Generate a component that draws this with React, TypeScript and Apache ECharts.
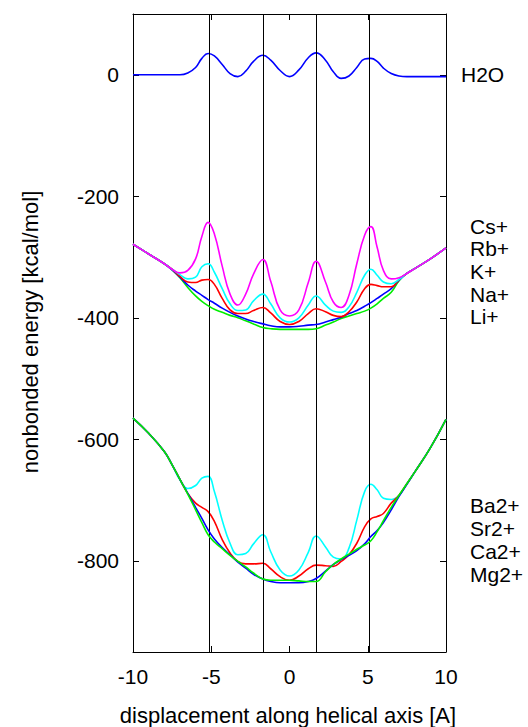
import React, { useEffect, useRef } from "react";
import * as echarts from "echarts";

// displacement grid (A)
const xs = [-10, -9, -8, -7.5, -7, -6.5, -6, -5.6, -5.2, -4.8, -4.3, -3.8, -3.3, -2.8, -2.3, -1.7, -1.2, -0.6, 0, 0.6, 1.2, 1.7, 2.3, 2.8, 3.3, 3.8, 4.3, 4.8, 5.2, 5.6, 6, 6.5, 7, 7.5, 8, 9, 10];

const h2o = [0, 0, 0, 0, 0, 3, 12, 27, 35, 31, 17, 2, -3, 6, 22, 32, 24, 7, -3, 8, 28, 36, 24, 5, -6, -2, 12, 26, 27, 22, 11, 2, -2, -3, -3, -3, -3];

const cs = [-279, -295, -311, -320, -326, -322, -303, -266, -243, -262, -315, -361, -379, -361, -328, -304, -340, -387, -397, -387, -342, -307, -341, -374, -383, -363, -311, -264, -250, -284, -322, -336, -334, -327, -319, -303, -285];
const rb = [-279, -295, -311, -320, -329, -336, -333, -316, -311, -325, -352, -377, -388, -387, -372, -361, -377, -400, -407, -400, -379, -364, -379, -389, -391, -382, -358, -330, -320, -330, -341, -344, -337, -327, -319, -303, -285];
const k = [-279, -295, -311, -320, -332, -341, -342, -338, -337, -345, -368, -387, -393, -393, -388, -383, -392, -406, -411, -406, -393, -385, -390, -396, -398, -390, -374, -352, -345, -347, -349, -349, -337, -327, -319, -303, -285];
const na = [-279, -295, -311, -321, -333, -346, -356, -363, -370, -376, -384, -391, -397, -402, -406, -410, -413, -415, -415, -414, -412, -411, -407, -403, -399, -393, -388, -381, -375, -368, -361, -352, -338, -327, -319, -303, -285];
const li = [-279, -295, -311, -321, -334, -350, -364, -373, -380, -386, -391, -396, -400, -405, -410, -416, -418, -419, -419, -419, -419, -418, -412, -407, -401, -397, -393, -389, -384, -377, -368, -358, -339, -327, -319, -303, -285];

const ba = [-565, -590, -620, -642, -667, -681, -676, -664, -661, -686, -733, -771, -790, -788, -772, -757, -785, -815, -825, -815, -786, -759, -777, -794, -797, -779, -733, -686, -674, -683, -697, -699, -692, -673, -654, -614, -567];
const sr = [-565, -590, -620, -642, -666, -689, -705, -712, -719, -735, -765, -787, -801, -805, -805, -804, -813, -826, -832, -825, -813, -807, -808, -809, -801, -790, -771, -744, -731, -727, -722, -705, -692, -673, -654, -614, -567];
const ca = [-565, -590, -620, -642, -666, -689, -712, -730, -749, -764, -778, -790, -802, -812, -822, -830, -834, -836, -836, -836, -834, -829, -817, -806, -798, -791, -783, -772, -760, -750, -737, -716, -694, -674, -654, -614, -567];
const mg = [-565, -590, -620, -642, -666, -690, -716, -737, -757, -769, -780, -791, -801, -810, -820, -830, -832, -832, -832, -833, -834, -834, -818, -806, -797, -789, -781, -774, -767, -752, -734, -712, -692, -673, -654, -614, -567];

const vlines = [-5.1, -1.7, 1.7, 5.1];
const yTicks = [-800, -600, -400, -200, 0];

const seriesNames = ["H2O", "Ba2+", "Sr2+", "Ca2+", "Mg2+", "Li+", "Na+", "K+", "Rb+", "Cs+"];
const seriesData = [h2o, ba, sr, ca, mg, li, na, k, rb, cs];
const seriesColors = ["#0000ff", "#00ffff", "#ff0000", "#0000ff", "#00ee00", "#00ee00", "#0000ff", "#ff0000", "#00ffff", "#ff00ff"];

const monoLabels = ["Cs+", "Rb+", "K+", "Na+", "Li+"];
const diLabels = ["Ba2+", "Sr2+", "Ca2+", "Mg2+"];

const FONT = '"Liberation Sans", Arial, sans-serif';
const FS = 21;
const TFS = 22;

export default function App() {
  const ref = useRef<HTMLDivElement>(null);
  useEffect(() => {
    if (!ref.current) return;
    const chart = echarts.init(ref.current, null, { renderer: "svg" });
    const series: any[] = seriesData.map((arr, i) => ({
      name: seriesNames[i],
      type: "line",
      xAxisIndex: 0,
      yAxisIndex: 0,
      data: xs.map((x, j) => [x, arr[j]]),
      showSymbol: false,
      smooth: 0.45,
      lineStyle: { color: seriesColors[i], width: 1.6 },
      itemStyle: { color: seriesColors[i] },
      z: 2 + i,
    }));
    series.push({
      name: "guides",
      type: "line",
      data: [],
      z: 20,
      markLine: {
        silent: true,
        symbol: ["none", "none"],
        label: { show: false },
        lineStyle: { color: "#000", width: 1, type: "solid" },
        data: vlines.map((v) => ({ xAxis: v })),
      },
    });
    const textStyle = (text: string, x: number, y: number) => ({
      type: "text",
      x,
      y,
      style: {
        text,
        fill: "#000",
        fontSize: FS,
        fontFamily: FONT,
        align: "left",
        verticalAlign: "middle",
        textAlign: "left",
        textVerticalAlign: "middle",
      },
    });
    const graphic: any[] = [textStyle("H2O", 461, 74)];
    monoLabels.forEach((t, i) => graphic.push(textStyle(t, 470, 226 + i * 22.7)));
    diLabels.forEach((t, i) => graphic.push(textStyle(t, 470, 505 + i * 23)));
    graphic.push({
      type: "text",
      x: 288,
      y: 715,
      style: { text: "displacement along helical axis [A]", fill: "#000", fontSize: TFS, fontFamily: FONT, align: "center", verticalAlign: "middle", textAlign: "center", textVerticalAlign: "middle" },
    });
    graphic.push({
      type: "text",
      x: 30,
      y: 332,
      rotation: Math.PI / 2,
      style: { text: "nonbonded energy [kcal/mol]", fill: "#000", fontSize: TFS, fontFamily: FONT, align: "center", verticalAlign: "middle", textAlign: "center", textVerticalAlign: "middle" },
    });

    const axisLineStyle = { show: true, onZero: false, lineStyle: { color: "#000", width: 1 } };
    chart.setOption({
      animation: false,
      backgroundColor: "#fff",
      grid: { left: 133, right: 82, top: 14, bottom: 75 },
      xAxis: [
        {
          type: "value",
          min: -10,
          max: 10,
          interval: 5,
          position: "bottom",
          axisLine: axisLineStyle,
          axisTick: { show: true, inside: true, length: 6, lineStyle: { color: "#000" } },
          axisLabel: { show: true, color: "#000", fontSize: FS, fontFamily: FONT, margin: 14 },
          splitLine: { show: false },
        },
        {
          type: "value",
          min: -10,
          max: 10,
          interval: 5,
          position: "top",
          axisLine: axisLineStyle,
          axisTick: { show: true, inside: true, length: 6, lineStyle: { color: "#000" } },
          axisLabel: { show: false },
          splitLine: { show: false },
        },
      ],
      yAxis: [
        {
          type: "value",
          min: -950,
          max: 100,
          position: "left",
          axisLine: axisLineStyle,
          axisTick: { show: true, inside: true, length: 6, lineStyle: { color: "#000" }, customValues: yTicks },
          axisLabel: { show: true, color: "#000", fontSize: FS, fontFamily: FONT, margin: 14, customValues: yTicks },
          splitLine: { show: false },
        },
        {
          type: "value",
          min: -950,
          max: 100,
          position: "right",
          axisLine: axisLineStyle,
          axisTick: { show: true, inside: true, length: 6, lineStyle: { color: "#000" }, customValues: yTicks },
          axisLabel: { show: false },
          splitLine: { show: false },
        },
      ],
      series,
      graphic,
    });
    return () => chart.dispose();
  }, []);
  return <div ref={ref} style={{ position: "fixed", left: 0, top: 0, width: 528, height: 727, background: "#fff" }} />;
}
